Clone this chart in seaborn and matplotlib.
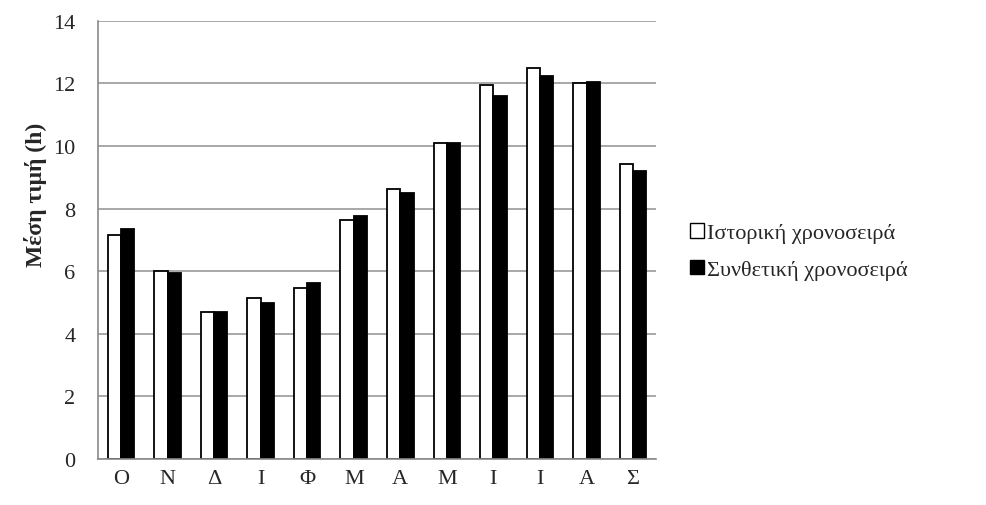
import numpy as np
import pandas as pd
import seaborn as sns
import matplotlib.pyplot as plt
from matplotlib.patches import Patch
from matplotlib.ticker import FixedLocator

# Monthly mean values (hydrological year Oct -> Sep)
months = ['Ο', 'Ν', 'Δ', 'Ι', 'Φ', 'Μ', 'Α', 'Μ', 'Ι', 'Ι', 'Α', 'Σ']
historical = [7.14, 6.02, 4.71, 5.14, 5.45, 7.65, 8.61, 10.09, 11.96, 12.50, 12.00, 9.41]
synthetic = [7.36, 5.93, 4.68, 4.97, 5.62, 7.77, 8.50, 10.10, 11.61, 12.22, 12.03, 9.20]
series_names = ['Ιστορική χρονοσειρά', 'Συνθετική χρονοσειρά']

df = pd.DataFrame({
    'pos': list(range(len(months))) * 2,
    'value': historical + synthetic,
    'series': [series_names[0]] * len(months) + [series_names[1]] * len(months),
})

sns.set_style('white')
plt.rcParams['font.family'] = ['Liberation Serif', 'DejaVu Serif']

fig = plt.figure(figsize=(9.87, 5.06), dpi=100)
ax = fig.add_axes([0.099, 0.091, 0.566, 0.866])

sns.barplot(
    data=df, x='pos', y='value', hue='series',
    palette=['white', 'black'], edgecolor='black', linewidth=1.3,
    width=0.57, gap=0, ax=ax, legend=False,
)

ax.set_ylim(0, 14)
ax.set_xlim(-0.5, len(months) - 0.5)
ax.set_yticks(np.arange(0, 15, 2))
ax.yaxis.grid(True, color='#9a9a9a', linewidth=1.2)
ax.set_axisbelow(True)

ax.set_xticks(range(len(months)))
ax.set_xticklabels(months, fontsize=16)
ax.tick_params(axis='x', which='major', length=0, pad=7)
ax.xaxis.set_minor_locator(FixedLocator(np.arange(-0.5, len(months), 1)))
ax.tick_params(axis='x', which='minor', length=6, color='#8a8a8a', width=1.2, direction='out')
ax.tick_params(axis='y', length=6, color='#8a8a8a', width=1.2, direction='out', labelsize=16, pad=10)

for side in ['top', 'right']:
    ax.spines[side].set_visible(False)
for side in ['left', 'bottom']:
    ax.spines[side].set_color('#8a8a8a')
    ax.spines[side].set_linewidth(1.2)

ax.set_xlabel('')
ax.set_ylabel('Μέση τιμή (h)', fontsize=17, fontweight='bold')
ax.yaxis.set_label_coords(-0.09, 0.605)

handles = [Patch(facecolor='white', edgecolor='black', linewidth=1),
           Patch(facecolor='black', edgecolor='black', linewidth=1)]
ax.legend(handles, series_names, loc='center left', bbox_to_anchor=(1.025, 0.473),
          frameon=False, fontsize=16, handlelength=0.6, handleheight=0.6,
          handletextpad=0.15, labelspacing=0.75)

fig.savefig('out.png', dpi=100)
